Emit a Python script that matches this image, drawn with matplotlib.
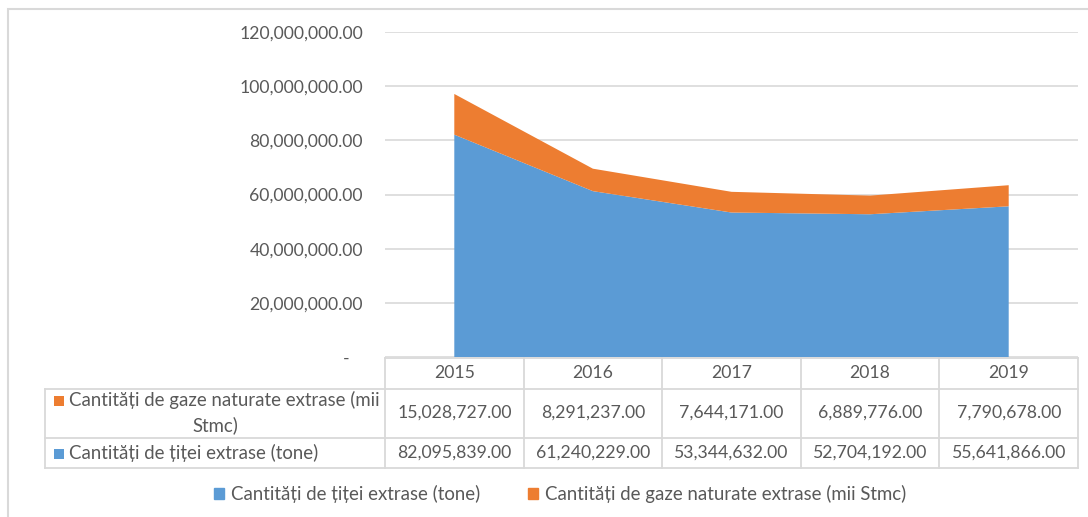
import matplotlib
matplotlib.use("Agg")
import matplotlib.pyplot as plt
from matplotlib.lines import Line2D
from matplotlib.patches import Rectangle
import matplotlib.transforms as mtransforms
from matplotlib.ticker import FuncFormatter

years = ["2015", "2016", "2017", "2018", "2019"]
titei = [82095839.00, 61240229.00, 53344632.00, 52704192.00, 55641866.00]
gaze = [15028727.00, 8291237.00, 7644171.00, 6889776.00, 7790678.00]
label_titei = "Cantități de țiței extrase (tone)"
label_gaze = "Cantități de gaze naturate extrase (mii Stmc)"
y_ticks = [0, 20000000, 40000000, 60000000, 80000000, 100000000, 120000000]

BLUE = "#5B9BD5"
ORANGE = "#ED7D31"
TXT = "#595959"
GRID = "#D9D9D9"
FONT = "Lato"

W, H = 1088, 517
fig = plt.figure(figsize=(W / 100, H / 100), dpi=100)
plt.rcParams["font.family"] = [FONT, "DejaVu Sans"]


def fx(px):
    return px / W


def fy(py):
    return 1 - py / H


# outer chart frame
fig.add_artist(Rectangle((fx(8), fy(530)), fx(1100) - fx(8), fy(9) - fy(530),
                         transform=fig.transFigure, fill=False,
                         edgecolor=GRID, linewidth=1.5))

left, right, top, bottom = 385, 1078, 32, 357
ax = fig.add_axes([fx(left), fy(bottom), fx(right) - fx(left), fy(top) - fy(bottom)])

x = list(range(len(years)))
ax.stackplot(x, titei, gaze, colors=[BLUE, ORANGE], linewidth=0)
ax.set_xlim(-0.5, len(years) - 0.5)
ax.set_ylim(0, 120000000)
ax.set_yticks(y_ticks)
# accounting-style zero: a dash set slightly in from the right edge
ax.yaxis.set_major_formatter(FuncFormatter(lambda v, p: "-   " if v == 0 else f"{v:,.2f}"))
ax.tick_params(axis="y", length=0, pad=16, labelsize=12.7, labelcolor=TXT)
ax.set_xticks([])
ax.grid(axis="y", color=GRID, linewidth=1.2)
ax.set_axisbelow(True)
for s in ax.spines.values():
    s.set_visible(False)

# data table under the plot
bt = mtransforms.blended_transform_factory(ax.transData, fig.transFigure)
row_y = [358, 389, 438, 468]
tbl_left = 45


def hline(x0, x1, py, data=False):
    if data:
        fig.add_artist(Line2D([x0, x1], [fy(py), fy(py)], transform=bt, color=GRID, lw=1.3))
    else:
        fig.add_artist(Line2D([fx(x0), fx(x1)], [fy(py), fy(py)], transform=fig.transFigure,
                              color=GRID, lw=1.3))


hline(-0.5, len(years) - 0.5, row_y[0], data=True)
for py in row_y[1:]:
    hline(tbl_left, right, py)
fig.add_artist(Line2D([fx(tbl_left)] * 2, [fy(row_y[1]), fy(row_y[3])],
                      transform=fig.transFigure, color=GRID, lw=1.3))
for i in range(len(years) + 1):
    xb = i - 0.5
    fig.add_artist(Line2D([xb, xb], [fy(row_y[0]), fy(row_y[3])], transform=bt, color=GRID, lw=1.3))

fs_num = 12.7
fs = 13.4
for i, yr in enumerate(years):
    fig.text(i, fy(373), yr, transform=bt, ha="center", va="center", fontsize=fs_num, color=TXT)
    fig.text(i, fy(413), f"{gaze[i]:,.2f}", transform=bt, ha="center", va="center", fontsize=fs_num, color=TXT)
    fig.text(i, fy(453), f"{titei[i]:,.2f}", transform=bt, ha="center", va="center", fontsize=fs_num, color=TXT)

# row headers
sq = 10
fig.add_artist(Rectangle((fx(54), fy(401) - sq / H / 2), sq / W, sq / H, transform=fig.transFigure,
                         color=ORANGE, lw=0))
fig.text(fx(69), fy(400), "Cantități de gaze naturate extrase (mii", ha="left", va="center",
         fontsize=fs, color=TXT)
fig.text(fx(215), fy(425), "Stmc)", ha="center", va="center", fontsize=fs, color=TXT)
fig.add_artist(Rectangle((fx(54), fy(454) - sq / H / 2), sq / W, sq / H, transform=fig.transFigure,
                         color=BLUE, lw=0))
fig.text(fx(69), fy(453), label_titei, ha="left", va="center", fontsize=fs, color=TXT)

# legend
leg = fig.legend(handles=[Rectangle((0, 0), 1, 1, color=BLUE), Rectangle((0, 0), 1, 1, color=ORANGE)],
                 labels=[label_titei, label_gaze], loc="center", bbox_to_anchor=(fx(560), fy(494)),
                 ncol=2, frameon=False, fontsize=fs, labelcolor=TXT, handlelength=0.55,
                 handleheight=0.55, handletextpad=0.35, columnspacing=2.6)

fig.savefig("out.png", dpi=100)
